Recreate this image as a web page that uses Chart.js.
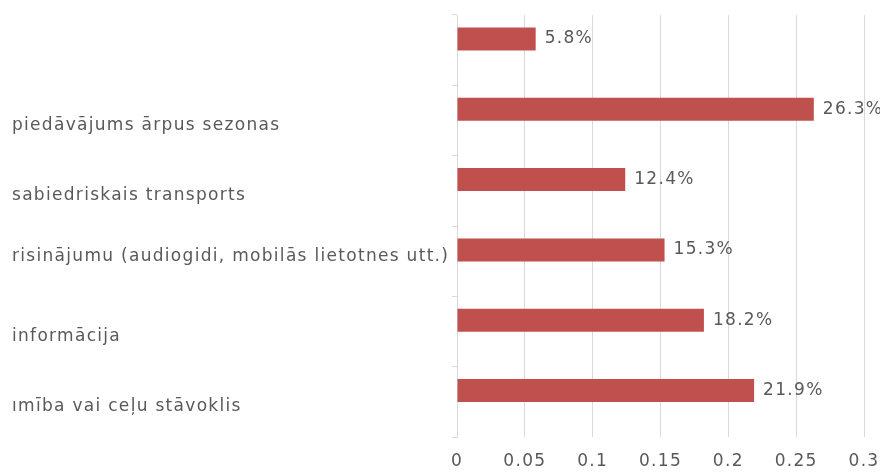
<!DOCTYPE html>
<html>
<head>
<meta charset="utf-8">
<script src="https://cdn.jsdelivr.net/npm/chart.js@4/dist/chart.umd.min.js"></script>
<style>
  html, body { margin: 0; padding: 0; background: #fff; }
  #wrap { width: 880px; height: 476px; }
</style>
</head>
<body>
<div id="wrap"><canvas id="barChart" width="880" height="476"></canvas></div>
<script>
// categories, top to bottom; the empty line nudges each label half a line
const labels = [
    '',
    ['', 'piedāvājums ārpus sezonas'],
    ['', 'sabiedriskais transports'],
    ['risinājumu (audiogidi, mobilās lietotnes utt.)', ''],
    ['', 'informācija'],
    ['', 'ımība vai ceļu stāvoklis']
];
const shares = [0.058, 0.263, 0.124, 0.153, 0.182, 0.219];
const shareText = ['5.8%', '26.3%', '12.4%', '15.3%', '18.2%', '21.9%'];
// second series of the cluster has no values
const emptySeries = [];
const xTicks = [0, 0.05, 0.1, 0.15, 0.2, 0.25, 0.3];

const textColor = '#595959';
const fontFamily = '"DejaVu Sans", sans-serif';
const fontSize = 17;

// wider letter spacing for every text drawn on the canvas
const spacing = {
    id: 'spacing',
    beforeUpdate(chart) { chart.ctx.letterSpacing = '1.3px'; },
    beforeDraw(chart) { chart.ctx.letterSpacing = '1.3px'; }
};

// percentage text just past the end of each bar
const barValueLabels = {
    id: 'barValueLabels',
    afterDatasetsDraw(chart) {
        const ctx = chart.ctx;
        const meta = chart.getDatasetMeta(0);
        ctx.save();
        ctx.font = fontSize + 'px ' + fontFamily;
        ctx.fillStyle = textColor;
        ctx.textAlign = 'left';
        ctx.textBaseline = 'middle';
        meta.data.forEach((bar, i) => {
            ctx.fillText(shareText[i], bar.x + 9, bar.y);
        });
        ctx.restore();
    }
};

new Chart(document.getElementById('barChart'), {
    type: 'bar',
    data: {
        labels: labels,
        datasets: [{
            data: shares,
            backgroundColor: '#C0504D',
            borderWidth: 0,
            categoryPercentage: 0.64,
            barPercentage: 1.02
        }, {
            data: emptySeries,
            backgroundColor: '#4F81BD',
            borderWidth: 0,
            categoryPercentage: 0.64,
            barPercentage: 1.02
        }]
    },
    options: {
        indexAxis: 'y',
        responsive: false,
        animation: false,
        layout: { padding: { left: 12, right: 16, top: 15, bottom: 0 } },
        plugins: {
            legend: { display: false },
            tooltip: { enabled: false }
        },
        scales: {
            x: {
                min: 0,
                max: 0.3,
                afterBuildTicks(scale) {
                    scale.ticks = xTicks.map(v => ({ value: v }));
                },
                afterFit(scale) {
                    scale.height = 39;
                    scale.paddingLeft = 0;
                    scale.paddingRight = 0;
                },
                grid: {
                    color: '#D9D9D9',
                    drawTicks: false
                },
                border: { display: false },
                ticks: {
                    color: textColor,
                    padding: 14,
                    font: { family: fontFamily, size: fontSize },
                    callback: v => String(v)
                }
            },
            y: {
                afterFit(scale) {
                    scale.width = 445;
                    scale.paddingTop = 0;
                    scale.paddingBottom = 0;
                },
                grid: {
                    offset: true,
                    drawOnChartArea: false,
                    tickLength: 5,
                    color: '#D9D9D9'
                },
                border: { display: true, color: '#D9D9D9' },
                ticks: {
                    crossAlign: 'far',
                    color: textColor,
                    font: { family: fontFamily, size: fontSize, lineHeight: '10px' }
                }
            }
        }
    },
    plugins: [spacing, barValueLabels]
});
</script>
</body>
</html>
